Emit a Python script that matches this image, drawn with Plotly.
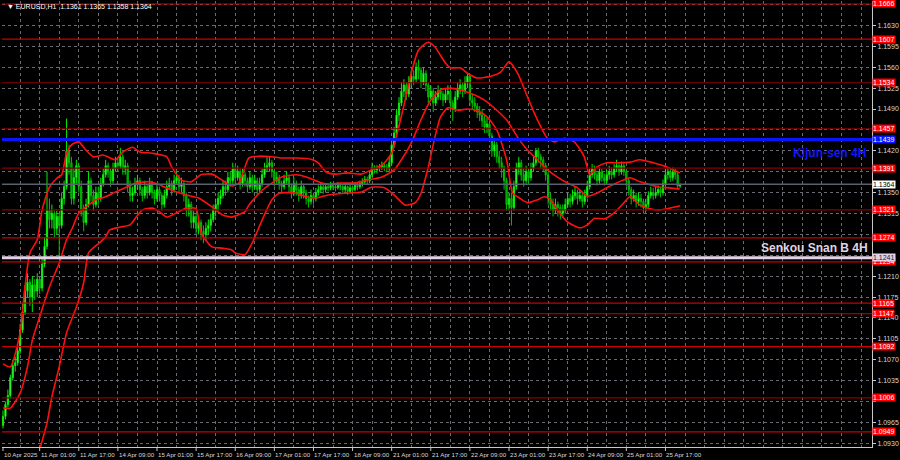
import plotly.graph_objects as go

# ---------------- data (prices in 1e-4 units) ----------------
first_open = 10960
close_p = [10975,10995,11010,11040,11060,11065,11085,11120,11150,11185,
11200,11175,11195,11185,11205,11190,11230,11260,11320,11305,
11315,11290,11310,11295,11340,11360,11420,11400,11340,11375,
11395,11360,11320,11300,11330,11370,11345,11330,11350,11340,
11365,11380,11395,11385,11370,11390,11400,11395,11410,11390,
11395,11360,11345,11350,11365,11370,11355,11345,11360,11350,
11365,11350,11340,11355,11345,11330,11345,11360,11365,11355,
11370,11375,11360,11365,11345,11320,11330,11300,11310,11290,
11300,11285,11280,11290,11295,11305,11320,11330,11340,11345,
11360,11355,11375,11370,11390,11375,11385,11365,11380,11370,
11360,11375,11360,11370,11355,11365,11380,11390,11395,11400,
11385,11370,11375,11365,11360,11370,11375,11360,11350,11365,
11355,11345,11360,11350,11340,11335,11345,11340,11350,11355,
11360,11355,11360,11358,11362,11360,11358,11362,11360,11355,
11360,11352,11358,11355,11362,11360,11365,11368,11372,11370,
11380,11392,11388,11390,11393,11395,11392,11390,11400,11430,
11450,11480,11500,11520,11530,11515,11535,11545,11540,11560,
11555,11535,11550,11530,11510,11520,11500,11510,11520,11515,
11505,11515,11520,11500,11490,11510,11525,11530,11520,11535,
11545,11505,11500,11495,11485,11480,11470,11460,11465,11445,
11420,11430,11410,11400,11390,11370,11330,11340,11325,11360,
11390,11400,11380,11370,11385,11375,11390,11400,11420,11410,
11405,11395,11380,11340,11330,11320,11330,11325,11315,11320,
11330,11340,11335,11345,11350,11340,11345,11335,11345,11360,
11380,11390,11380,11370,11385,11375,11370,11380,11385,11380,
11390,11395,11385,11395,11385,11370,11355,11340,11345,11335,
11340,11335,11325,11330,11345,11350,11345,11350,11355,11350,
11365,11380,11385,11375,11385,11380,11361,11364]

high_p = [10985,11000,11020,11045,11070,11075,11095,11130,11165,11195,
11215,11205,11210,11205,11215,11210,11240,11275,11385,11340,
11330,11320,11320,11315,11350,11370,11474,11430,11410,11390,
11405,11400,11370,11330,11340,11385,11375,11355,11360,11360,
11375,11390,11405,11400,11390,11400,11410,11410,11425,11415,
11405,11400,11370,11360,11375,11380,11375,11360,11370,11365,
11375,11370,11355,11365,11360,11350,11355,11370,11375,11370,
11380,11385,11380,11375,11370,11350,11340,11335,11320,11315,
11310,11305,11295,11300,11305,11315,11330,11340,11350,11355,
11370,11370,11385,11385,11400,11395,11395,11390,11390,11385,
11375,11385,11380,11380,11375,11375,11390,11400,11410,11410,
11405,11390,11385,11380,11370,11380,11385,11380,11365,11375,
11370,11360,11370,11365,11355,11345,11355,11350,11358,11362,
11367,11365,11366,11365,11368,11366,11364,11368,11366,11363,
11366,11362,11364,11362,11368,11366,11370,11374,11378,11377,
11386,11400,11396,11396,11398,11402,11400,11398,11410,11440,
11460,11490,11510,11535,11540,11535,11545,11555,11555,11568,
11573,11560,11560,11555,11535,11530,11525,11520,11530,11525,
11520,11525,11530,11525,11505,11520,11535,11540,11535,11545,
11550,11548,11515,11510,11500,11495,11490,11480,11475,11470,
11450,11440,11435,11420,11410,11395,11375,11350,11350,11370,
11400,11410,11405,11390,11395,11390,11400,11410,11425,11425,
11415,11410,11400,11385,11350,11340,11340,11335,11330,11330,
11340,11350,11348,11355,11360,11355,11355,11350,11355,11370,
11390,11398,11395,11385,11392,11390,11382,11388,11395,11392,
11398,11405,11400,11402,11400,11390,11375,11360,11355,11350,
11350,11348,11340,11340,11352,11360,11358,11360,11362,11360,
11372,11390,11392,11390,11392,11390,11385,11365]

low_p = [10955,10970,10990,11005,11035,11050,11060,11080,11115,11145,
11175,11160,11150,11170,11175,11180,11185,11225,11255,11290,
11290,11275,11280,11240,11290,11330,11355,11380,11330,11330,
11365,11350,11310,11285,11295,11325,11335,11320,11325,11330,
11335,11360,11375,11375,11360,11365,11385,11385,11390,11380,
11380,11350,11335,11335,11345,11355,11345,11335,11340,11340,
11345,11340,11330,11335,11335,11320,11325,11340,11355,11345,
11350,11365,11350,11350,11335,11310,11310,11290,11290,11280,
11280,11270,11265,11270,11280,11285,11300,11310,11320,11330,
11340,11345,11350,11360,11365,11365,11370,11355,11360,11360,
11350,11355,11350,11355,11345,11350,11360,11375,11385,11385,
11375,11360,11365,11355,11350,11355,11365,11350,11340,11345,
11345,11335,11340,11340,11330,11325,11330,11330,11335,11345,
11350,11348,11350,11352,11354,11354,11352,11355,11354,11349,
11350,11346,11350,11349,11352,11354,11356,11360,11364,11364,
11366,11376,11382,11382,11385,11388,11386,11384,11385,11395,
11425,11445,11470,11495,11510,11505,11510,11525,11530,11535,
11540,11525,11530,11520,11500,11505,11485,11495,11505,11505,
11495,11500,11505,11490,11470,11485,11505,11515,11510,11515,
11525,11495,11490,11485,11475,11470,11460,11450,11450,11435,
11410,11410,11400,11390,11375,11355,11320,11320,11295,11320,
11355,11380,11370,11360,11365,11365,11370,11385,11395,11400,
11390,11385,11370,11330,11320,11310,11315,11310,11305,11308,
11315,11325,11325,11330,11338,11330,11335,11325,11330,11340,
11355,11375,11372,11362,11365,11368,11362,11365,11372,11372,
11375,11385,11378,11380,11378,11360,11345,11330,11335,11325,
11328,11325,11315,11318,11325,11340,11338,11340,11345,11342,
11345,11360,11372,11368,11370,11372,11355,11358]

# band lines (bar index, price)
upper_idx = [0,3,7,9,11,14,16,19,22,24,26,28,31,34,37,41,46,49,53,56,61,67,69,73,77,81,85.5,89.6,93.6,96.5,99,100.6,104.6,110,114,120,126,129,132,136,141,146.6,150.7,155,159,161.6,164.5,167,170,174,176.7,181,183,187,190,194,199.5,203.6,207,210.5,214.6,218.6,222.7,225.6,229.6,233.7,237.8,240,243,247,252,256.5,260.6,266,271.6,276.9]
upper_val = [1.1063,1.1058,1.1115,1.1192,1.1249,1.1271,1.1321,1.1359,1.1374,1.1380,1.1416,1.1430,1.1435,1.1421,1.1410,1.1413,1.1405,1.1418,1.1426,1.1418,1.1416,1.1410,1.1393,1.1371,1.1368,1.1380,1.1381,1.1371,1.1361,1.1366,1.1393,1.1408,1.1411,1.1410,1.1408,1.1408,1.1406,1.1400,1.1385,1.1381,1.1383,1.1381,1.1388,1.1396,1.1416,1.1455,1.1505,1.1550,1.1589,1.1602,1.1594,1.1567,1.1559,1.1559,1.1550,1.1542,1.1545,1.1552,1.1569,1.1550,1.1510,1.1472,1.1441,1.1435,1.1441,1.1435,1.1410,1.1380,1.1393,1.1400,1.1400,1.1401,1.1405,1.1400,1.1393,1.1383]

middle_idx = [0,3,7,10,12,15,19,23,26,28.5,31,34,38,42,46,50.5,54.5,60,64,69,75,80,85.5,89.6,93.6,96.5,99,100.6,106,110,114,120,125,129,133,138,144,149,155,160,163,167,171,175,179,183,187,191,197,202,206,210.5,214.6,218.6,222.7,226.8,230.9,235,239,243,247,252,256.5,260.6,264.7,268.7,272.8,276.9]
middle_val = [1.0989,1.0989,1.1014,1.1058,1.1103,1.1142,1.1192,1.1232,1.1271,1.1292,1.1316,1.1326,1.1338,1.1343,1.1351,1.1359,1.1366,1.1368,1.1363,1.1354,1.1346,1.1341,1.1326,1.1313,1.1309,1.1313,1.1318,1.1329,1.1354,1.1366,1.1376,1.1380,1.1375,1.1368,1.1364,1.1366,1.1366,1.1371,1.1376,1.1388,1.1405,1.1433,1.1472,1.1505,1.1522,1.1525,1.1522,1.1517,1.1505,1.1488,1.1472,1.1443,1.1421,1.1405,1.1388,1.1376,1.1366,1.1358,1.1344,1.1349,1.1358,1.1368,1.1375,1.1368,1.1363,1.1359,1.1358,1.1356]

lower_idx = [0,8,15,18,20,23,26,30,33,35,39.5,42,43.5,47.6,52,54.5,57,61,64,67,71,75,79,81,85.5,89.6,93.6,95,99,102,106,110,113,120,124,128,133,140,146.6,150.7,156,160,164.5,168.6,171,174,176.7,179,182,186,190,194,198,202,206,208.5,210.5,214.6,218.6,221.5,224,226.8,230.9,236,239,242,246,250,254,256.5,260.6,264.7,268.7,272.8,276.9]
lower_val = [1.0620,1.0800,1.0919,1.0964,1.1008,1.1058,1.1115,1.1158,1.1199,1.1249,1.1266,1.1276,1.1287,1.1292,1.1296,1.1309,1.1321,1.1324,1.1318,1.1309,1.1316,1.1324,1.1323,1.1282,1.1259,1.1257,1.1254,1.1249,1.1246,1.1266,1.1304,1.1338,1.1349,1.1349,1.1343,1.1341,1.1346,1.1349,1.1351,1.1359,1.1358,1.1346,1.1329,1.1333,1.1349,1.1393,1.1443,1.1477,1.1492,1.1488,1.1490,1.1487,1.1477,1.1455,1.1405,1.1349,1.1343,1.1333,1.1338,1.1343,1.1338,1.1321,1.1301,1.1291,1.1296,1.1307,1.1306,1.1316,1.1333,1.1343,1.1329,1.1323,1.1321,1.1324,1.1328]

red_levels = [1.1666,1.1607,1.1534,1.1457,1.1391,1.1321,1.1274,1.1234,1.1165,1.1147,1.1092,1.1006,1.0949]
red_dark = [False,False,True,True,True,True,False,False,False,False,False,True,False]
kijun_level = 1.1439
senkou_level = 1.1241
current_price = 1.1364

y_ticks = [1.0930,1.0965,1.1000,1.1035,1.1070,1.1105,1.1140,1.1175,1.1210,1.1245,1.1280,
           1.1315,1.1350,1.1385,1.1420,1.1455,1.1490,1.1525,1.1560,1.1595,1.1630,1.1665]
y_tick_text = ["1.0930","1.0965","","1.1035","1.1070","1.1105","1.1140","1.1175","1.1210","","",
               "1.1315","1.1350","","1.1420","","1.1490","1.1525","1.1560","1.1595","1.1630",""]

x_label_idx = [0,15,31,47,63,79,95,111,127,143,159,175,191,207,223,239,255,271]
x_label_txt = ["10 Apr 2025","11 Apr 01:00","11 Apr 17:00","14 Apr 09:00","15 Apr 01:00",
               "15 Apr 17:00","16 Apr 09:00","17 Apr 01:00","17 Apr 17:00","18 Apr 09:00",
               "21 Apr 01:00","21 Apr 17:00","22 Apr 09:00","23 Apr 01:00","23 Apr 17:00",
               "24 Apr 09:00","25 Apr 01:00","25 Apr 17:00"]

title_txt = "▼ EURUSD,H1  1.1361 1.1365 1.1358 1.1364"

# ---------------- build ----------------
n = len(close_p)
idx = list(range(n))
opens = [first_open] + close_p[:-1]
o = [v / 1e4 for v in opens]
c = [v / 1e4 for v in close_p]
h = [v / 1e4 for v in high_p]
l = [v / 1e4 for v in low_p]

fig = go.Figure()
fig.add_trace(go.Candlestick(
    x=idx, open=o, high=h, low=l, close=c,
    increasing=dict(line=dict(color="#00ee00", width=1), fillcolor="#a8ffa8"),
    decreasing=dict(line=dict(color="#00c000", width=1), fillcolor="#008a00"),
    showlegend=False, hoverinfo="skip"))

for xs, ys in [(upper_idx, upper_val), (middle_idx, middle_val), (lower_idx, lower_val)]:
    fig.add_trace(go.Scatter(x=xs, y=ys, mode="lines",
                             line=dict(color="#ff1010", width=1.6, shape="spline", smoothing=0.6),
                             showlegend=False, hoverinfo="skip"))

shapes = []
annotations = []
lab_font = dict(family="Liberation Sans, Arial, sans-serif", size=7)
xlab_font = dict(family="Liberation Sans, Arial, sans-serif", size=6.2)

for lv, dk in zip(red_levels, red_dark):
    shapes.append(dict(type="line", xref="paper", x0=0, x1=1, yref="y", y0=lv, y1=lv,
                       line=dict(color="#8a0000" if dk else "#c80000", width=1.2), layer="above"))
    annotations.append(dict(xref="paper", x=1, xanchor="left", yref="y", y=lv, yanchor="middle",
                            text=f"{lv:.4f}", showarrow=False, bgcolor="#ff0000",
                            font=dict(lab_font, color="#ffffff"), borderpad=0))

shapes.append(dict(type="line", xref="paper", x0=0, x1=1, yref="y", y0=current_price, y1=current_price,
                   line=dict(color="#5a6070", width=1.5), layer="above"))
shapes.append(dict(type="line", xref="paper", x0=0, x1=1, yref="y", y0=kijun_level, y1=kijun_level,
                   line=dict(color="#0a14ff", width=3), layer="above"))
shapes.append(dict(type="line", xref="paper", x0=0, x1=1, yref="y", y0=senkou_level, y1=senkou_level,
                   line=dict(color="#e2d2e6", width=3), layer="above"))

annotations.append(dict(xref="paper", x=1, xanchor="left", yref="y", y=kijun_level, yanchor="middle",
                        text=f"{kijun_level:.4f}", showarrow=False, bgcolor="#0a14ff",
                        font=dict(lab_font, color="#ffffff"), borderpad=0))
annotations.append(dict(xref="paper", x=1, xanchor="left", yref="y", y=current_price, yanchor="middle",
                        text=f"{current_price:.4f}", showarrow=False, bgcolor="#ffffff",
                        font=dict(lab_font, color="#000000"), borderpad=0))
annotations.append(dict(xref="paper", x=1, xanchor="left", yref="y", y=senkou_level, yanchor="middle",
                        text=f"{senkou_level:.4f}", showarrow=False, bgcolor="#e2d2e6",
                        font=dict(lab_font, color="#202030"), borderpad=0))

annotations.append(dict(xref="paper", x=0.9954, xanchor="right", yref="y", y=kijun_level,
                        yanchor="middle", yshift=-14, showarrow=False, text="<b>Kijun-sen 4H</b>",
                        font=dict(family="Liberation Sans Narrow, Liberation Sans, Arial", size=12,
                                  color="#1414ff")))
annotations.append(dict(xref="paper", x=0.9977, xanchor="right", yref="y", y=senkou_level,
                        yanchor="bottom", yshift=1, showarrow=False, text="<b>Senkou Snan B 4H</b>",
                        font=dict(family="Liberation Sans Narrow, Liberation Sans, Arial", size=12,
                                  color="#e0d4e4")))

annotations.append(dict(xref="paper", x=0, xanchor="left", yref="paper", y=1, yanchor="top",
                        xshift=3, yshift=0, showarrow=False, text=title_txt,
                        font=dict(lab_font, color="#ffffff")))

for xi, tx in zip(x_label_idx, x_label_txt):
    annotations.append(dict(xref="x", x=xi, xanchor="left", yref="paper", y=0, yanchor="top",
                            xshift=-1, yshift=-2, showarrow=False, text=tx,
                            font=dict(xlab_font, color="#d8d8d8")))
    shapes.append(dict(type="line", xref="x", x0=xi, x1=xi, yref="paper", y0=0, y1=-0.009,
                       line=dict(color="#c8c8c8", width=1), layer="above"))

fig.update_layout(
    width=900, height=460,
    margin=dict(l=2, r=24, t=1, b=13),
    paper_bgcolor="#000000", plot_bgcolor="#000000",
    shapes=shapes, annotations=annotations,
    showlegend=False,
    xaxis=dict(range=[-0.41, 355.5], rangeslider=dict(visible=False),
               tickmode="linear", tick0=7, dtick=8, showticklabels=False, ticks="",
               showgrid=True, gridcolor="#6a6a72", griddash="3px,3px", gridwidth=1,
               zeroline=False, showline=True, linecolor="#c8c8c8", linewidth=1),
    yaxis=dict(range=[1.09238, 1.16710], side="right",
               tickmode="array", tickvals=y_ticks, ticktext=y_tick_text,
               ticks="outside", ticklen=3, tickcolor="#c8c8c8",
               tickfont=dict(lab_font, color="#d8d8d8"),
               showgrid=True, gridcolor="#6a6a72", griddash="3px,3px", gridwidth=1,
               zeroline=False, showline=True, linecolor="#c8c8c8", linewidth=1),
)

fig.write_html("out.html", config={"displayModeBar": False},
               post_script="document.body.style.margin='0';document.body.style.overflow='hidden';")
